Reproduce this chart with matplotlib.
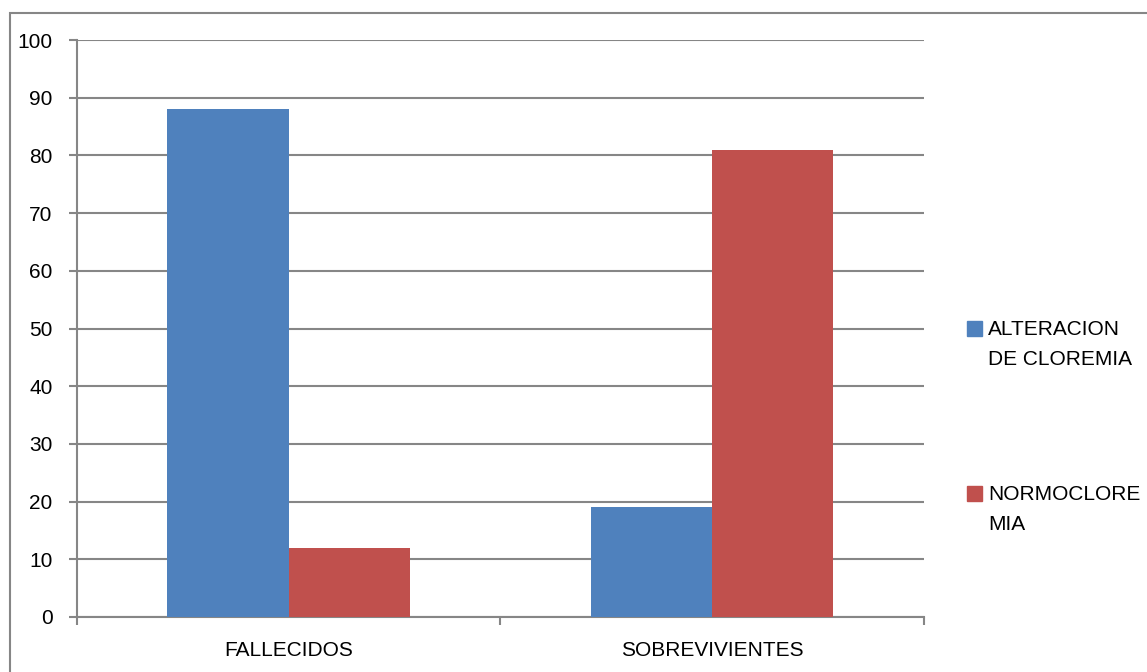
import matplotlib.pyplot as plt
import numpy as np
from matplotlib.patches import Rectangle

# data
categories = ['FALLECIDOS', 'SOBREVIVIENTES']
series_names = ['ALTERACION\nDE CLOREMIA', 'NORMOCLORE\nMIA']
alteracion = [88, 19]
normocloremia = [12, 81]
y_ticks = [0, 10, 20, 30, 40, 50, 60, 70, 80, 90, 100]

colors = ['#4F81BD', '#C0504D']
grid_color = '#868686'

plt.rcParams['font.family'] = ['Liberation Sans', 'DejaVu Sans']
plt.rcParams['font.size'] = 15

W, H = 1147, 672
fig = plt.figure(figsize=(W / 100, H / 100), dpi=100)

# outer chart border (right and bottom edges are cut off in the reference)
fig.add_artist(Rectangle((10 / W, -0.1), 1.2, 1 - 13 / H + 0.1,
                         transform=fig.transFigure, fill=False,
                         edgecolor=grid_color, linewidth=1.5))

ax = fig.add_axes([76.7 / W, 1 - 617 / H, (924 - 76.7) / W, (617 - 40) / H])

x = np.arange(len(categories))
w = 1 / 3.5  # excel gap width 150%
ax.bar(x - w / 2, alteracion, w, color=colors[0], zorder=3)
ax.bar(x + w / 2, normocloremia, w, color=colors[1], zorder=3)

ax.set_xlim(-0.5, len(categories) - 0.5)
ax.set_ylim(0, 100)
ax.set_yticks(y_ticks)
ax.set_yticklabels([str(v) for v in y_ticks])
ax.yaxis.grid(True, color=grid_color, linewidth=1.5, zorder=0)
ax.set_axisbelow(True)

# category labels between tick marks
ax.set_xticks(np.arange(len(categories) + 1) - 0.5)
ax.set_xticklabels([])
ax.set_xticks(x, minor=True)
ax.set_xticklabels(categories, minor=True)
ax.tick_params(axis='x', which='minor', length=0, pad=17)
ax.tick_params(axis='x', which='major', length=6, width=1.5, color=grid_color)
ax.tick_params(axis='y', length=5.5, width=1.5, color=grid_color, pad=12)

for s in ['top', 'right']:
    ax.spines[s].set_visible(False)
for s in ['left', 'bottom']:
    ax.spines[s].set_color(grid_color)
    ax.spines[s].set_linewidth(1.5)

# legend, drawn like the excel one (square at the first text line)
leg_y = [321, 485.5]
for i, name in enumerate(series_names):
    fig.add_artist(Rectangle((967 / W, 1 - (leg_y[i] + 15) / H), 15 / W, 15 / H,
                             transform=fig.transFigure, color=colors[i]))
    fig.text(988 / W, 1 - (leg_y[i] - 1) / H, name, ha='left', va='top',
             linespacing=1.75)

fig.savefig('out.png', dpi=100)
